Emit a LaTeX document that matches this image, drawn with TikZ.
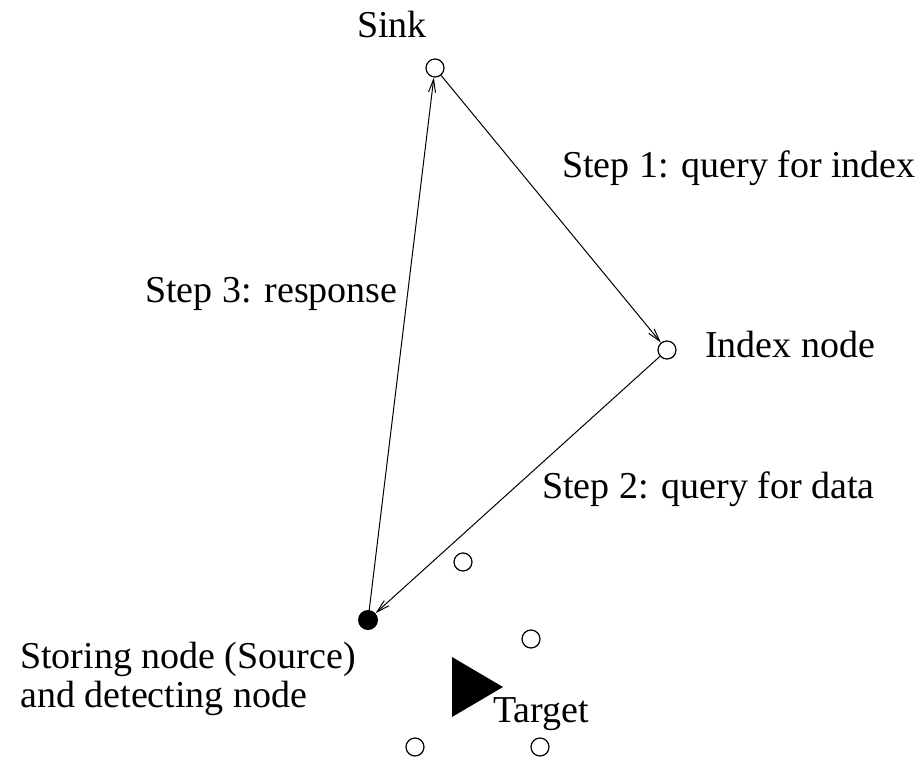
\documentclass[tikz,border=0pt]{standalone}
\usepackage{fontspec}
\setmainfont{Liberation Serif}
\usetikzlibrary{arrows.meta}
\begin{document}
\begin{tikzpicture}[x=1pt,y=-1pt,
  sensor/.style={circle,draw,line width=1.2pt,minimum size=18pt,inner sep=0pt},
  source/.style={circle,fill,minimum size=20pt,inner sep=0pt},
  lbl/.style={font=\fontsize{38}{40}\selectfont,inner sep=0pt,anchor=base west},
  link/.style={line width=1pt,-{Straight Barb[length=13pt,width=7pt]}}]
  \useasboundingbox (0,0) rectangle (922,758);
  % nodes of the network
  \node[sensor] (sink) at (435,68) {};
  \node[sensor] (index) at (667,350) {};
  \node[source] (store) at (368,620) {};
  \node[sensor] (n1) at (463,562) {};
  \node[sensor] (n2) at (531,639) {};
  \node[sensor] (n3) at (415,747) {};
  \node[sensor] (n4) at (540,747) {};
  % target
  \fill (452,657) -- (503,687) -- (452,717) -- cycle;
  % labels
  \node[lbl] (tsink) at (357,37) {Sink};
  \node[lbl] (tindex) at (705,357) {Index node};
  \node[lbl] (ts1) at (562,177) {Step 1: query for index};
  \node[lbl] (ts3) at (145,302) {Step 3: response};
  \node[lbl] (ts2) at (542,498) {Step 2: query for data};
  \node[lbl] (ts4) at (20,668) {Storing node (Source)};
  \node[lbl] (ts5) at (20,707) {and detecting node};
  \node[lbl] (ttarget) at (493,722) {Target};
  % query and response paths
  \draw[link] (sink) -- (index);
  \draw[link] (index) -- (store);
  \draw[link] (store) -- (sink);
\end{tikzpicture}
\end{document}
